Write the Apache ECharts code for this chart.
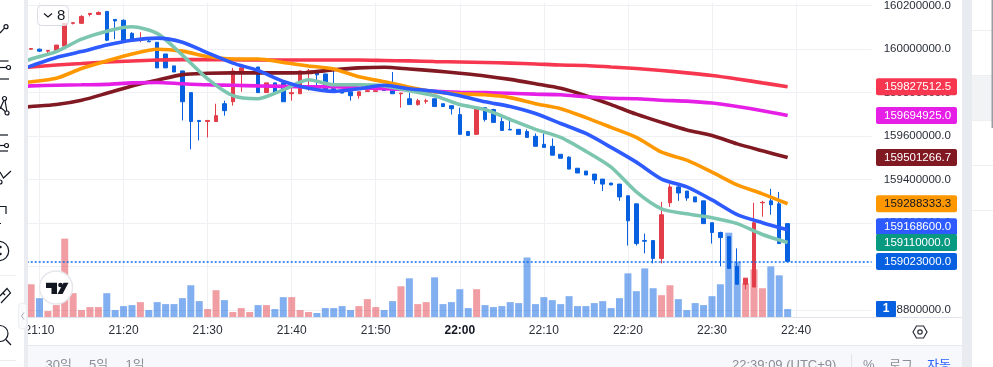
<!DOCTYPE html>
<html><head><meta charset="utf-8">
<style>html,body{margin:0;padding:0;background:#fff;overflow:hidden}#c{width:993px;height:367px}</style>
<script src="https://cdn.jsdelivr.net/npm/echarts@6/dist/echarts.min.js"></script>
</head><body><div id="c"></div>
<script>
const categories = ['21:08','21:09','21:10','21:11','21:12','21:13','21:14','21:15','21:16','21:17','21:18','21:19','21:20','21:21','21:22','21:23','21:24','21:25','21:26','21:27','21:28','21:29','21:30','21:31','21:32','21:33','21:34','21:35','21:36','21:37','21:38','21:39','21:40','21:41','21:42','21:43','21:44','21:45','21:46','21:47','21:48','21:49','21:50','21:51','21:52','21:53','21:54','21:55','21:56','21:57','21:58','21:59','22:00','22:01','22:02','22:03','22:04','22:05','22:06','22:07','22:08','22:09','22:10','22:11','22:12','22:13','22:14','22:15','22:16','22:17','22:18','22:19','22:20','22:21','22:22','22:23','22:24','22:25','22:26','22:27','22:28','22:29','22:30','22:31','22:32','22:33','22:34','22:35','22:36','22:37','22:38','22:39','22:40','22:41','22:42','22:43','22:44','22:45','22:46','22:47','22:48','22:49'];
// OHLC rows from 21:09 on, in thousands: open, close, low, high
const candles = [
[160000,160003,159998,160005],[160000,159991,159987,160003],[159991,159994,159973,159994],[159991,160019,159991,160019],[160014,160119,160014,160119],[160119,160122,160114,160122],[160119,160151,160119,160156],[160160,160165,160151,160165],[160160,160169,160160,160174],[160174,160041,160037,160174],
[160137,160130,160046,160137],[160133,160041,160041,160137],[160073,160041,160041,160078],[160041,160044,160032,160078],[160037,160034,160034,160046],[160032,159914,159914,160032],[159978,159914,159914,159978],[159923,159895,159895,159923],[159900,159758,159672,159900],[159800,159667,159539,159800],
[159672,159667,159580,159672],[159667,159672,159594,159672],[159667,159694,159667,159749],[159749,159717,159694,159763],[159758,159900,159740,159914],[159900,159914,159804,159918],[159890,159895,159890,159895],[159918,159800,159800,159918],[159800,159845,159800,159845],[159845,159800,159800,159845],
[159845,159758,159758,159845],[159795,159800,159763,159845],[159795,159900,159795,159900],[159895,159900,159809,159909],[159900,159882,159818,159900],[159886,159809,159809,159886],[159818,159804,159800,159905],[159807,159798,159798,159807],[159804,159786,159763,159804],[159786,159804,159772,159804],
[159805,159809,159805,159818],[159805,159809,159805,159818],[159813,159810,159810,159827],[159809,159795,159795,159895],[159795,159798,159731,159798],[159772,159745,159745,159800],[159745,159763,159740,159772],[159760,159763,159749,159772],[159772,159736,159736,159772],[159749,159736,159736,159749],
[159740,159726,159699,159740],[159699,159608,159608,159731],[159621,159603,159603,159621],[159608,159731,159608,159731],[159731,159676,159667,159731],[159722,159663,159663,159726],[159667,159626,159626,159685],[159631,159628,159628,159685],[159631,159608,159608,159631],[159621,159594,159594,159631],
[159599,159553,159553,159612],[159562,159548,159548,159612],[159553,159512,159512,159589],[159516,159498,159498,159516],[159503,159448,159448,159507],[159452,159430,159430,159452],[159439,159421,159421,159439],[159425,159398,159379,159425],[159402,159379,159347,159402],[159384,159375,159375,159384],
[159379,159320,159302,159379],[159325,159210,159096,159325],[159288,159105,159096,159288],[159119,159116,159060,159151],[159119,159037,159014,159119],[159037,159238,159014,159297],[159293,159366,159274,159379],[159366,159338,159302,159375],[159347,159315,159302,159347],[159320,159297,159297,159320],
[159302,159197,159197,159302],[159201,159156,159105,159201],[159156,159133,159000,159160],[159137,158991,158991,159137],[159000,158918,158918,159083],[158918,158946,158895,158946],[158905,159201,158905,159293],[159293,159295,159229,159302],[159302,159284,159238,159357],[159288,159105,159105,159343],[159197,159023,159023,159197]];
const volumes = [33,19,6,12,79,24,7,10,10,24,7,11,12,15,7,15,13,13,19,32,16,8,27,17,5,9,5,12,12,8,20,20,7,5,4,9,9,11,7,11,18,10,7,16,31,39,13,15,40,13,15,28,9,28,12,10,11,15,14,60,13,20,17,13,21,11,11,14,16,9,19,44,26,49,29,22,32,18,7,14,12,21,33,85,56,34,48,29,51,42,8];
// Moving averages read at these minutes, in thousands
const maTimes = ['21:08','21:09','21:12','21:15','21:18','21:21','21:24','21:27','21:30','21:33','21:36','21:39','21:42','21:45','21:48','21:51','21:54','21:57','22:00','22:03','22:06','22:09','22:12','22:15','22:18','22:21','22:24','22:27','22:30','22:33','22:36','22:39'];
const maGreen = [159941,159955,159989,160046,160083,160103,160073,159973,159863,159786,159772,159813,159859,159836,159836,159831,159809,159786,159745,159722,159676,159631,159594,159530,159457,159343,159265,159242,159224,159197,159147,159110];
const maBlue = [159909,159923,159962,159989,160019,160041,160051,160032,159983,159936,159902,159852,159820,159806,159818,159834,159818,159806,159786,159758,159736,159704,159658,159612,159548,159480,159402,159366,159306,159238,159201,159168.6];
const maOrange = [159845,159850,159866,159911,159946,159978,160000,159991,159966,159955,159955,159939,159923,159909,159873,159850,159825,159804,159795,159790,159777,159749,159726,159685,159640,159594,159526,159489,159434,159375,159334,159288.3];
const maRed = [159916,159918,159927,159934,159941,159946,159950,159952,159952,159952,159950,159950,159950,159950,159950,159948,159946,159943,159941,159939,159936,159932,159927,159925,159918,159911,159902,159891,159879,159863,159845,159827.5];
const maMagenta = [159829,159831,159834,159836,159838,159845,159847,159841,159836,159834,159831,159829,159827,159827,159822,159818,159813,159806,159802,159800,159797,159793,159790,159781,159774,159772,159765,159761,159752,159736,159717,159694.9];
const maDark = [159733,159736,159745,159765,159797,159831,159857,159883,159889,159891,159891,159891,159893,159905,159914,159917,159909,159900,159889,159877,159861,159841,159820,159786,159745,159701,159663,159628,159603,159564,159532,159501.3];
const priceTicks = [158800000,159000000,159200000,159400000,159600000,159800000,160000000,160200000];
const badgePrices = [159827512.5,159694925.0,159501266.7,159288333.3,159168600.0,159110000.0,159023000.0];
const lastPrice = 159023000;

const UNIT = 1000;
const badgeColors = ['#f7374f','#e61fe6','#801922','#ff9800','#2e5bff','#089981','#0660e0'];
const badgeText = ['#fff','#fff','#fff','#131722','#fff','#fff','#fff'];
const badgeNudge = [0,0,0,0,-3,0,0];
const FONT = '"Liberation Sans","Noto Sans CJK KR",sans-serif';
const UP='#e23d48', DOWN='#0660e0';

const candleData = ['-'].concat(candles.map(r=>r.map(v=>v*UNIT)));
const volumeData = [null].concat(volumes.map((v,i)=>({value:v,itemStyle:{color:candles[i][1]>=candles[i][0]?'rgba(226,61,72,.5)':'rgba(6,96,224,.5)'}})));
const isTen = (i,v)=>v.endsWith('0');
function ma(name,arr,color,extra){
  return Object.assign({name,type:'line',xAxisIndex:0,yAxisIndex:0,data:maTimes.map((t,i)=>[t,arr[i]*UNIT]),
    showSymbol:false,symbol:'none',smooth:0.25,lineStyle:{width:3.6,color},itemStyle:{color},z:4,silent:true},extra||{});
}
const c=(s)=>({stroke:'#131722',lineWidth:1.2,fill:null,...s});
const line=(pts)=>({type:'polyline',shape:{points:pts},style:c({})});
const circ=(x,y,r)=>({type:'circle',shape:{cx:x,cy:y,r},style:c({})});
const hr=(y,x1,x2,col)=>({type:'line',shape:{x1,y1:y,x2,y2:y},style:{stroke:col,lineWidth:1}});
const txt=(x,y,t,col,font,align)=>({type:'text',x,y,style:{text:t,fill:col,font:font||('13px '+FONT),textAlign:align||'left',textVerticalAlign:'middle'}});
const rect=(x,y,w,h,fill,r)=>({type:'rect',shape:{x,y,width:w,height:h,r:r||0},style:{fill}});
const overlay=[
 rect(28,345,934,22,'#f7f8fb'),hr(345.5,28,962,'#e6e8ee'),hr(317.5,28,962,'#e0e3eb'),
 rect(0,0,24,367,'#ffffff'),rect(24,0,4,367,'#eaecf2'),
 rect(962,0,10,367,'#e8ebf0'),rect(972,0,21,367,'#ffffff'),rect(972,75,21,45,'#f2f3f5'),
 hr(30.5,972,993,'#eeeeee'),hr(75.5,972,993,'#eeeeee'),hr(120.5,972,993,'#eeeeee'),hr(165.5,972,993,'#eeeeee'),hr(210.5,972,993,'#eeeeee'),
 {type:'rect',shape:{x:991.5,y:0,width:1.5,height:128},style:{fill:'#9a9da5'}},
 // left toolbar
 circ(6,26.7,2),line([[4.5,28.2],[0,33]]),
 line([[0,61],[8.5,61]]),line([[0,67.5],[6,67.5]]),circ(8.5,67.5,2),line([[0,79],[9,79]]),
 circ(4.5,98.5,2),circ(7,113,2),line([[3.8,100.5],[0,109]]),line([[0,107],[5.5,111.8]]),line([[5,100.5],[6.8,111]]),
 line([[0,135],[8,135]]),line([[0,145.5],[4.5,145.5]]),circ(6.5,145.5,2),line([[0,151],[8,151]]),
 line([[0,172],[3.5,178],[11,171]]),circ(0,182,2),
 line([[0,206.5],[6,206.5],[6,214]]),line([[0,223.5],[1,223.5]]),
 circ(-1,251,9.7),circ(0.5,247,.6),circ(0.5,254,.6),
 hr(275.5,0,16,'#eeeeee'),
 line([[0,296],[7,288.5],[10.5,293],[1,303]]),line([[3,293],[5,295]]),
 circ(0,333.5,8),line([[5.8,339.5],[11,345]]),
 hr(360.5,0,16,'#eeeeee'),
 {type:'rect',shape:{x:18.5,y:303,width:8,height:26,r:4},style:{fill:'#fafbfc',stroke:'#eceef2',lineWidth:1}},
 {type:'polyline',shape:{points:[[24,312.5],[21.5,316],[24,319.5]]},style:{stroke:'#a5a8b0',lineWidth:1,fill:null}},
 // legend collapse box
 {type:'rect',shape:{x:37.5,y:5.5,width:31,height:20,r:4},style:{fill:'rgba(255,255,255,.75)',stroke:'#d8dbe3',lineWidth:1}},
 {type:'polyline',shape:{points:[[44,13.5],[48,17],[52,13.5]]},style:{stroke:'#131722',lineWidth:1.2,fill:null}},
 txt(57,15.5,'8','#131722','15px '+FONT),
 // logo
 {type:'circle',shape:{cx:56,cy:287.5,r:16.5},style:{fill:'#fff',stroke:'#e6e7ec',lineWidth:1.5}},
 {type:'polygon',shape:{points:[[46,282.7],[57,282.7],[57,294],[51.5,294],[51.5,288],[46,288]]},style:{fill:'#131722'}},
 {type:'circle',shape:{cx:60.5,cy:285,r:2.3},style:{fill:'#131722'}},
 {type:'polygon',shape:{points:[[63.5,282.7],[68.5,282.7],[62.5,294],[57.5,294]]},style:{fill:'#131722'}},
 // axis corner
 rect(876,301,20,16,'#0660e0',1),
 txt(886,309,'1','#fff','bold 12px '+FONT,'center'),
 {type:'polygon',shape:{points:[[913,332],[916.5,326],[923.5,326],[927,332],[923.5,338],[916.5,338]]},style:{fill:null,stroke:'#2a2e39',lineWidth:1.2}},
 {type:'circle',shape:{cx:920,cy:332,r:2.2},style:{fill:null,stroke:'#2a2e39',lineWidth:1.2}},
 // bottom bar
 txt(45.5,365,'30일','#8a8d96'),txt(89,365,'5일','#8a8d96'),txt(125.5,365,'1일','#8a8d96'),
 txt(732,365,'22:39:09 (UTC+9)','#8a8d96'),
 {type:'line',shape:{x1:851.5,y1:354,x2:851.5,y2:367},style:{stroke:'#e0e3eb',lineWidth:1}},
 txt(863,365,'%','#8a8d96'),txt(889,365,'로그','#8a8d96'),txt(927,365,'자동','#2962ff')
].map(g=>Object.assign({silent:true,z:100},g));

const chart=echarts.init(document.getElementById('c'),null,{renderer:'canvas'});
chart.setOption({
 animation:false,backgroundColor:'#fff',
 graphic:{elements:overlay},
 grid:{left:22.7,top:0,width:849,height:317,containLabel:false},
 xAxis:{type:'category',data:categories,boundaryGap:false,
  axisLine:{show:false},axisTick:{show:false},
  splitLine:{show:true,interval:isTen,lineStyle:{color:'#eef0f4',width:1}},
  axisLabel:{interval:isTen,margin:8,color:'#2a2e39',fontFamily:FONT,fontSize:12,hideOverlap:false,
   formatter:v=>v==='22:00'?'{b|22:00}':v,rich:{b:{fontWeight:'bold',fontSize:12,fontFamily:FONT,color:'#131722'}}}},
 yAxis:[
  {type:'value',position:'right',min:158767123,max:160214612,scale:true,
   axisLine:{show:false},
   axisTick:{show:false,customValues:priceTicks},
   splitLine:{show:true,lineStyle:{color:'#eef0f4',width:1}},
   axisLabel:{customValues:priceTicks,margin:12,align:'left',color:'#2a2e39',fontFamily:FONT,fontSize:11.5,hideOverlap:false,showMinLabel:true,showMaxLabel:true,formatter:v=>v.toFixed(1)}},
  {type:'value',min:0,max:317,show:false,splitLine:{show:false}}
 ],
 series:[
  {name:'Volume',type:'bar',xAxisIndex:0,yAxisIndex:1,data:volumeData,barWidth:7,z:1,silent:true},
  {name:'Price',type:'candlestick',xAxisIndex:0,yAxisIndex:0,data:candleData,barWidth:4,z:3,silent:true,
   itemStyle:{color:UP,color0:DOWN,borderColor:UP,borderColor0:DOWN,borderWidth:1}},
  ma('MA dark',maDark,'#801922'),
  ma('MA magenta',maMagenta,'#e61fe6'),
  ma('MA red',maRed,'#f7374f'),
  ma('MA orange',maOrange,'#ff9800'),
  ma('MA green',maGreen,'#7cc6b0'),
  ma('MA blue',maBlue,'#2e5bff',{markLine:{silent:true,symbol:'none',animation:false,label:{show:false},z:6,
     lineStyle:{color:'#0a6cf0',type:[2,2],width:1.5,opacity:1},emphasis:{disabled:true},data:[{yAxis:lastPrice}]}}),
  {name:'Price badges',type:'custom',xAxisIndex:0,yAxisIndex:0,z:50,clip:false,silent:true,
   data:badgePrices.map((p,i)=>[0,p,i]),encode:{x:0,y:1},
   renderItem:(params,api)=>{
     const i=api.value(2), p=api.value(1), y=api.coord([0,p])[1]+badgeNudge[i];
     return {type:'group',children:[
       {type:'rect',shape:{x:876,y:y-8.5,width:81,height:17,r:2},style:{fill:badgeColors[i]}},
       {type:'text',style:{x:884,y:y+0.5,text:p.toFixed(1),fill:badgeText[i],font:'11.5px '+FONT,textAlign:'left',textVerticalAlign:'middle'}}
     ]};
   }}
 ]
});
</script></body></html>
